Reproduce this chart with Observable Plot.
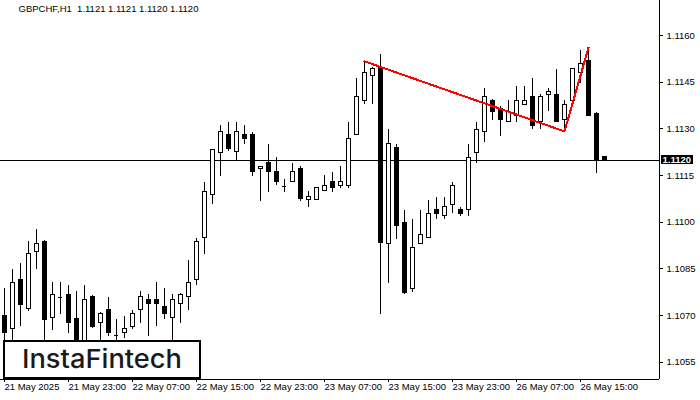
<!DOCTYPE html>
<html>
<head>
<meta charset="utf-8">
<script src="https://cdn.jsdelivr.net/npm/d3@7"></script>
<script src="https://cdn.jsdelivr.net/npm/@observablehq/plot@0.6"></script>
<style>
  html, body { margin: 0; padding: 0; background: #fff; }
  #chart svg { display: block; shape-rendering: crispEdges; }
  #chart svg path.pattern { shape-rendering: auto; }
</style>
</head>
<body>
<div id="chart"></div>
<script>
const symbolTitle = "GBPCHF,H1  1.1121 1.1121 1.1120 1.1120";
const logoText = "InstaFintech";

const opens = [1.10698,1.10656,1.10816,1.10723,1.10906,1.10938,1.10694,1.10759,1.10768,1.10688,
1.10588,1.10759,1.10675,1.10717,1.10636,1.10643,1.10665,1.10717,1.10749,1.10749,
1.10727,1.10694,1.10736,1.10759,1.10816,1.10948,1.11089,1.11221,1.11279,1.11227,
1.11279,1.11279,1.11170,1.11189,1.11160,1.11115,1.11128,1.11170,1.11070,1.11070,
1.11099,1.11128,1.11118,1.11115,1.11279,1.11391,1.11471,1.11497,1.10929,1.11240,
1.10999,1.10787,1.10929,1.10948,1.11038,1.11019,1.11057,1.11038,1.11038,1.11221,
1.11289,1.11391,1.11365,1.11321,1.11340,1.11378,1.11401,1.11321,1.11410,1.11410,
1.11327,1.11391,1.11481,1.11517,1.11349,1.1121];

const highs = [1.10787,1.10848,1.10868,1.10938,1.10977,1.10940,1.10806,1.10806,1.10797,1.10778,
1.10797,1.10765,1.10710,1.10759,1.10688,1.10698,1.10717,1.10778,1.10768,1.10806,
1.10787,1.10768,1.10770,1.10877,1.10948,1.11128,1.11231,1.11311,1.11321,1.11321,
1.11311,1.11289,1.11176,1.11250,1.11208,1.11138,1.11189,1.11179,1.11099,1.11109,
1.11150,1.11160,1.11179,1.11321,1.11462,1.11517,1.11497,1.11539,1.11298,1.11250,
1.11038,1.11009,1.11038,1.11070,1.11080,1.11080,1.11128,1.11048,1.11250,1.11321,
1.11430,1.11395,1.11372,1.11391,1.11436,1.11436,1.11462,1.11410,1.11430,1.11491,
1.11391,1.11491,1.11552,1.11561,1.11352,1.1121];

const lows = [1.10604,1.10620,1.10665,1.10714,1.10848,1.10582,1.10652,1.10704,1.10643,1.10572,
1.10570,1.10660,1.10605,1.10633,1.10620,1.10627,1.10656,1.10675,1.10633,1.10665,
1.10688,1.10614,1.10675,1.10717,1.10797,1.10897,1.11057,1.11147,1.11227,1.11198,
1.11250,1.11147,1.11067,1.11096,1.11118,1.11096,1.11128,1.11067,1.11048,1.11070,
1.11099,1.11096,1.11109,1.11109,1.11279,1.11378,1.11378,1.10704,1.10803,1.10945,
1.10768,1.10774,1.10929,1.10948,1.11009,1.11009,1.11028,1.11019,1.11019,1.11189,
1.11256,1.11327,1.11276,1.11321,1.11321,1.11378,1.11298,1.11298,1.11356,1.11321,
1.11292,1.11378,1.11446,1.11340,1.11157,1.1120];

const closes = [1.10643,1.10806,1.10733,1.10897,1.10929,1.10685,1.10768,1.10759,1.10675,1.10595,
1.10749,1.10665,1.10707,1.10643,1.10636,1.10656,1.10707,1.10759,1.10736,1.10736,
1.10707,1.10749,1.10768,1.10806,1.10938,1.11096,1.11231,1.11289,1.11237,1.11289,
1.11266,1.11160,1.11176,1.11160,1.11128,1.11115,1.11160,1.11076,1.11080,1.11109,
1.11118,1.11109,1.11128,1.11269,1.11401,1.11481,1.11491,1.10935,1.11250,1.10987,
1.10774,1.10919,1.10958,1.11028,1.11028,1.11048,1.11115,1.11028,1.11208,1.11298,
1.11401,1.11353,1.11330,1.11353,1.11391,1.11391,1.11308,1.11401,1.11420,1.11321,
1.11378,1.11491,1.11510,1.11340,1.11200,1.1120];

const xTickIndex = [0, 8, 16, 24, 32, 40, 48, 56, 64, 72];
const xTickLabels = ["21 May 2025","21 May 23:00","22 May 07:00","22 May 15:00","22 May 23:00",
  "23 May 07:00","23 May 15:00","23 May 23:00","26 May 07:00","26 May 15:00"];
const yTicks = [1.1055, 1.1070, 1.1085, 1.1100, 1.1115, 1.1130, 1.1145, 1.1160];
const currentPrice = 1.1120;
const patternIndex = [45, 70, 73];

const bars = opens.map((o, i) => ({i, o, h: highs[i], l: lows[i], c: closes[i]}));
const pattern = [
  {i: patternIndex[0], p: highs[patternIndex[0]]},
  {i: patternIndex[1], p: lows[patternIndex[1]]},
  {i: patternIndex[2], p: highs[patternIndex[2]]}
];
const half = 0.25;

const chart = Plot.plot({
  width: 700,
  height: 400,
  marginLeft: 0,
  marginRight: 41,
  marginTop: 0,
  marginBottom: 21,
  style: {fontFamily: "'Liberation Sans', Arial, sans-serif", fontSize: "9.5px", color: "#000", background: "#fff"},
  x: {type: "linear", domain: [-0.5, 81.875], axis: null, label: null},
  y: {domain: [1.10495, 1.117124], axis: null, label: null},
  marks: [
    Plot.ruleY([currentPrice], {stroke: "#000", strokeWidth: 1}),
    Plot.ruleX(bars, {x: "i", y1: "l", y2: "h", stroke: "#000", strokeWidth: 1}),
    Plot.rect(bars.filter(d => d.c > d.o), {x1: d => d.i - half, x2: d => d.i + half, y1: "o", y2: "c", fill: "#fff", stroke: "#000", strokeWidth: 1}),
    Plot.rect(bars.filter(d => d.c < d.o), {x1: d => d.i - half, x2: d => d.i + half, y1: "o", y2: "c", fill: "#000", stroke: "#000", strokeWidth: 1}),
    Plot.ruleY(bars.filter(d => d.c === d.o), {y: "o", x1: d => d.i - half - 0.06, x2: d => d.i + half + 0.06, stroke: "#000", strokeWidth: 1}),
    Plot.line(pattern, {x: "i", y: "p", stroke: "#ff0000", strokeWidth: 2, className: "pattern"}),
    Plot.ruleX([81.875], {stroke: "#000", strokeWidth: 1}),
    Plot.ruleY([1.10495], {stroke: "#000", strokeWidth: 1}),
    Plot.axisY(yTicks, {anchor: "right", label: null, tickFormat: d => d.toFixed(4), tickSize: 3, tickPadding: 4, stroke: "#000", fill: "#000"}),
    Plot.axisX(xTickIndex, {anchor: "bottom", label: null, tickFormat: d => xTickLabels[xTickIndex.indexOf(d)], tickSize: 3, tickPadding: 1, textAnchor: "start", dx: 0, stroke: "#000", fill: "#000"}),
    Plot.rect([currentPrice], {x1: 82.1, x2: 86.1, y1: d => d - 0.00015, y2: d => d + 0.00015, fill: "#000", clip: false}),
    Plot.text([currentPrice], {x: 82.25, y: d => d, text: d => d.toFixed(4), fill: "#fff", textAnchor: "start", fontWeight: "bold", clip: false}),
    Plot.text([symbolTitle], {frameAnchor: "top-left", dx: 18, dy: 5, lineAnchor: "top", textAnchor: "start", fill: "#000"})
  ]
});

document.getElementById("chart").appendChild(chart);

// Logo box
const svg = d3.select(chart);
const g = svg.append("g");
g.append("rect").attr("x", 4).attr("y", 341).attr("width", 196).attr("height", 37)
  .attr("fill", "#fff").attr("stroke", "#000").attr("stroke-width", 2);
g.append("text").attr("x", 22).attr("y", 368).text(logoText)
  .attr("text-anchor", "start")
  .attr("font-family", "Inter, 'Open Sans', sans-serif").attr("font-size", 26).attr("font-weight", 500)
  .attr("fill", "#1a1a1a").attr("textLength", 160).attr("lengthAdjust", "spacingAndGlyphs")
  .style("shape-rendering", "auto");
</script>
</body>
</html>
